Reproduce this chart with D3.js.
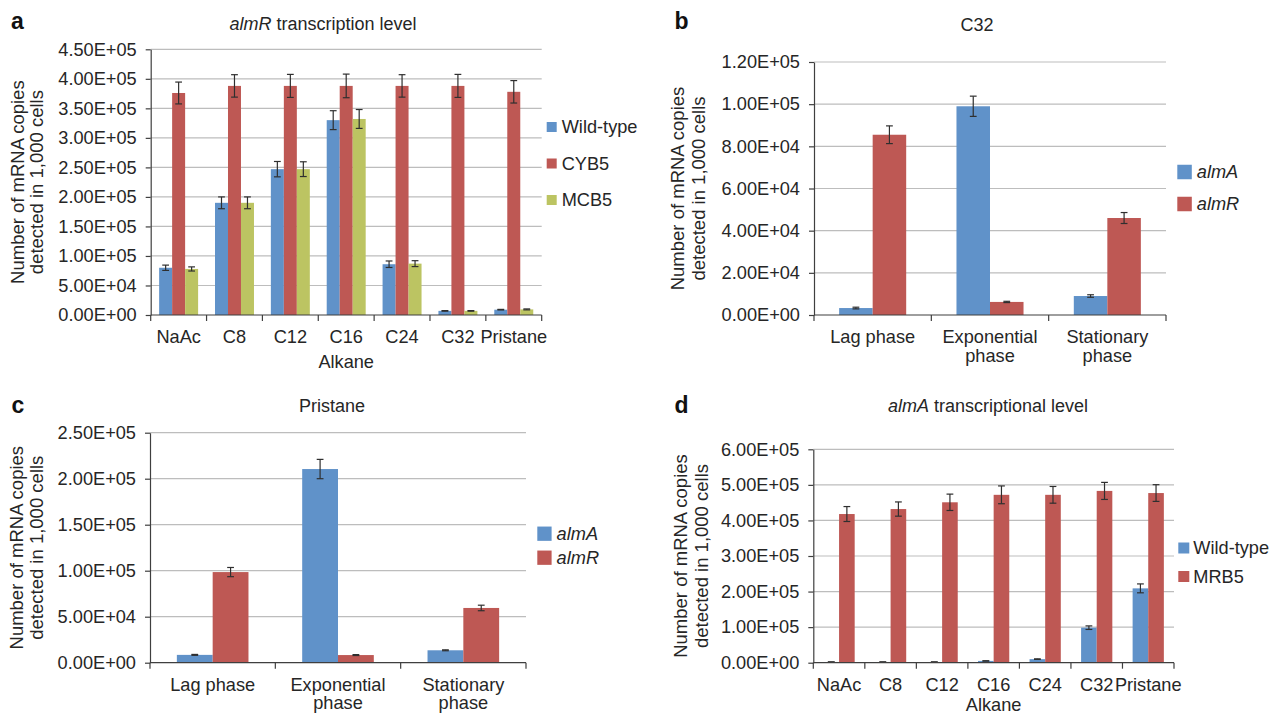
<!DOCTYPE html>
<html>
<head>
<meta charset="utf-8">
<script src="https://cdn.jsdelivr.net/npm/d3@7"></script>
<style>
  body { margin: 0; background: #fff; }
  svg { display: block; font-family: "Liberation Sans", Arial, Helvetica, sans-serif; }
  .y-axis text { font-size: 18.2px; fill: #262626; }
  .x-axis text { font-size: 18.2px; fill: #262626; }
  .grid line { stroke: #bdbdbd; stroke-width: 1.2; }
  .axis-line { stroke: #3f3f3f; stroke-width: 1.2; }
</style>
</head>
<body>
<svg id="chart" width="1271" height="714"></svg>
<script>
// categories
const alkanes = ['NaAc', 'C8', 'C12', 'C16', 'C24', 'C32', 'Pristane']
const phases = ['Lag phase', 'Exponential\nphase', 'Stationary\nphase']

// panel a: almR transcription level
const aWild = [80000, 190000, 247000, 330000, 86000, 7000, 9000]
const aWildErr = [4500, 10000, 13000, 16000, 5500, 500, 500]
const aCyb5 = [376000, 388000, 388000, 388000, 388000, 388000, 378000]
const aCyb5Err = [18500, 19000, 19500, 20000, 19000, 19500, 19000]
const aMcb5 = [78000, 190000, 247000, 332000, 87000, 7000, 9500]
const aMcb5Err = [3500, 10000, 12500, 16000, 5000, 500, 800]
const aTicks = [0, 50000, 100000, 150000, 200000, 250000, 300000, 350000, 400000, 450000]

// panel b: C32
const bAlmA = [3300, 99000, 9000]
const bAlmAErr = [400, 4800, 600]
const bAlmR = [85500, 6200, 46000]
const bAlmRErr = [4200, 300, 2600]
const bTicks = [0, 20000, 40000, 60000, 80000, 100000, 120000]

// panel c: Pristane
const cAlmA = [8500, 210500, 13500]
const cAlmAErr = [500, 10500, 500]
const cAlmR = [98500, 8300, 59500]
const cAlmRErr = [5000, 500, 3000]
const cTicks = [0, 50000, 100000, 150000, 200000, 250000]

// panel d: almA transcriptional level
const dWild = [2000, 2000, 2000, 5000, 10000, 98500, 209000]
const dWildErr = [300, 300, 300, 500, 800, 5000, 12500]
const dMrb5 = [418000, 432000, 451000, 472000, 472000, 483000, 477000]
const dMrb5Err = [21000, 20000, 23000, 25000, 23500, 24000, 23500]
const dTicks = [0, 100000, 200000, 300000, 400000, 500000, 600000]

const blue = '#6092c9'
const red = '#be5854'
const green = '#bcc462'

const svg = d3.select('#chart')
svg.append('rect').attr('width', 1271).attr('height', 714).attr('fill', '#fff')

// excel style 4.50E+05
const fmtE = v => {
  if (v === 0) return '0.00E+00'
  const e = Math.floor(Math.log10(v) + 1e-9)
  const m = v / Math.pow(10, e)
  return m.toFixed(2) + 'E' + (e < 0 ? '-' : '+') + String(Math.abs(e)).padStart(2, '0')
}

function drawPanel (p) {
  const g = svg.append('g')
  const box = p.box

  // panel letter
  g.append('text')
    .attr('x', p.letter[1]).attr('y', p.letter[2])
    .style('font-size', '23px').style('font-weight', 'bold').attr('fill', '#111')
    .text(p.letter[0])

  // title with italic gene name
  const title = g.append('text')
    .attr('x', p.titlePos[0]).attr('y', p.titlePos[1])
    .attr('text-anchor', 'middle')
    .style('font-size', '18px').attr('fill', '#262626')
  p.title.forEach(part => {
    title.append('tspan').style('font-style', part[1] ? 'italic' : 'normal').text(part[0])
  })

  // scales
  const x = d3.scaleBand().domain(p.categories).range([box.left, box.right])
  const y = d3.scaleLinear().domain([0, d3.max(p.ticks)]).range([box.bottom, box.top])
  const n = p.series.length
  const barW = x.bandwidth() / (n + p.gap)
  const inner = d3.scaleBand().domain(p.series.map(s => s.name)).range([0, n * barW])
  const offset = (x.bandwidth() - n * barW) / 2

  // gridlines
  g.append('g').attr('class', 'grid')
    .selectAll('line')
    .data(p.ticks.filter(t => t > 0))
    .enter()
    .append('line')
    .attr('x1', box.left).attr('x2', box.right)
    .attr('y1', d => y(d)).attr('y2', d => y(d))

  // bars
  p.series.forEach(s => {
    g.append('g').selectAll('rect')
      .data(p.categories)
      .enter()
      .append('rect')
      .attr('x', (c, i) => x(c) + offset + inner(s.name))
      .attr('y', (c, i) => y(s.values[i]))
      .attr('width', inner.bandwidth())
      .attr('height', (c, i) => box.bottom - y(s.values[i]))
      .attr('fill', s.color)
  })

  // error bars
  p.series.forEach(s => {
    const eg = g.append('g').attr('stroke', '#2f2f2f').attr('stroke-width', 1.2).attr('fill', 'none')
    p.categories.forEach((c, i) => {
      const cx = x(c) + offset + inner(s.name) + inner.bandwidth() / 2
      const hi = y(s.values[i] + s.errors[i])
      const lo = y(s.values[i] - s.errors[i])
      eg.append('line').attr('x1', cx).attr('x2', cx).attr('y1', hi).attr('y2', lo)
      eg.append('line').attr('x1', cx - 3.4).attr('x2', cx + 3.4).attr('y1', hi).attr('y2', hi)
      eg.append('line').attr('x1', cx - 3.4).attr('x2', cx + 3.4).attr('y1', lo).attr('y2', lo)
    })
  })

  // y axis
  const yAxis = g.append('g').attr('class', 'y-axis')
    .attr('transform', `translate(${box.left},0)`)
    .call(d3.axisLeft(y).tickValues(p.ticks).tickFormat(fmtE).tickSize(5).tickSizeOuter(0).tickPadding(9))
  yAxis.selectAll('line').attr('stroke', '#3f3f3f').attr('stroke-width', 1.2)
  yAxis.select('.domain').attr('stroke', '#3f3f3f').attr('stroke-width', 1.2)

  // x axis labels
  const xAxis = g.append('g').attr('class', 'x-axis')
    .attr('transform', `translate(0,${box.bottom})`)
    .call(d3.axisBottom(x).tickSize(0).tickPadding(15.5))
  xAxis.select('.domain').remove()
  xAxis.selectAll('text').each(function (d) {
    const t = d3.select(this)
    const lines = d.split('\n')
    t.text(null)
    lines.forEach((l, k) => {
      t.append('tspan').attr('x', 0).attr('dy', k === 0 ? null : '1.0em').text(l)
    })
  })

  // x axis line and boundary ticks
  g.append('line').attr('class', 'axis-line')
    .attr('x1', box.left).attr('x2', box.right)
    .attr('y1', box.bottom).attr('y2', box.bottom)
  const bounds = p.categories.map(c => x(c)).concat([box.right])
  g.append('g').selectAll('line')
    .data(bounds)
    .enter()
    .append('line')
    .attr('class', 'axis-line')
    .attr('x1', d => d).attr('x2', d => d)
    .attr('y1', box.bottom).attr('y2', box.bottom + 6)

  // x axis title
  if (p.xTitle) {
    g.append('text')
      .attr('x', (box.left + box.right) / 2).attr('y', box.bottom + p.xTitleDy)
      .attr('text-anchor', 'middle')
      .style('font-size', '18.2px').attr('fill', '#262626')
      .text(p.xTitle)
  }

  // y axis title, two lines
  const yMid = (box.top + box.bottom) / 2
  const yTitle = ['Number of mRNA copies', 'detected in 1,000 cells']
  yTitle.forEach((l, k) => {
    g.append('text')
      .attr('transform', `translate(${p.yTitleX[k]},${yMid}) rotate(-90)`)
      .attr('text-anchor', 'middle')
      .style('font-size', '18.5px').attr('fill', '#262626')
      .text(l)
  })

  // legend
  const lg = p.legend
  p.series.forEach((s, k) => {
    const cy = lg.y + k * lg.step
    g.append('rect')
      .attr('x', lg.x).attr('y', cy - lg.size / 2)
      .attr('width', lg.size).attr('height', lg.size)
      .attr('fill', s.color)
    g.append('text')
      .attr('x', lg.x + lg.size + lg.pad).attr('y', cy)
      .attr('dy', '0.35em')
      .style('font-size', '18.2px').style('font-style', s.italic ? 'italic' : 'normal')
      .attr('fill', '#262626')
      .text(s.name)
  })
}

drawPanel({
  letter: ['a', 11, 28.5],
  title: [['almR', true], [' transcription level', false]],
  titlePos: [323, 30],
  box: {left: 150.7, right: 541.7, top: 49.3, bottom: 315},
  categories: alkanes,
  ticks: aTicks,
  gap: 1.3,
  series: [
    {name: 'Wild-type', color: blue, values: aWild, errors: aWildErr},
    {name: 'CYB5', color: red, values: aCyb5, errors: aCyb5Err},
    {name: 'MCB5', color: green, values: aMcb5, errors: aMcb5Err}
  ],
  xTitle: 'Alkane',
  xTitleDy: 52.5,
  yTitleX: [23.5, 43],
  legend: {x: 546.7, y: 127, step: 36.5, size: 10, pad: 5}
})

drawPanel({
  letter: ['b', 674.5, 29.3],
  title: [['C32', false]],
  titlePos: [977, 31],
  box: {left: 814, right: 1166, top: 62, bottom: 315},
  categories: phases,
  ticks: bTicks,
  gap: 1.5,
  series: [
    {name: 'almA', italic: true, color: blue, values: bAlmA, errors: bAlmAErr},
    {name: 'almR', italic: true, color: red, values: bAlmR, errors: bAlmRErr}
  ],
  yTitleX: [684, 705],
  legend: {x: 1177.3, y: 172, step: 32, size: 14.5, pad: 5}
})

drawPanel({
  letter: ['c', 11.5, 413.3],
  title: [['Pristane', false]],
  titlePos: [332, 411.7],
  box: {left: 150, right: 526, top: 432.7, bottom: 662.7},
  categories: phases,
  ticks: cTicks,
  gap: 1.5,
  series: [
    {name: 'almA', italic: true, color: blue, values: cAlmA, errors: cAlmAErr},
    {name: 'almR', italic: true, color: red, values: cAlmR, errors: cAlmRErr}
  ],
  yTitleX: [23, 43],
  legend: {x: 537.3, y: 533.7, step: 24, size: 14.3, pad: 5}
})

drawPanel({
  letter: ['d', 674.5, 413.3],
  title: [['almA', true], [' transcriptional level', false]],
  titlePos: [988, 412],
  box: {left: 813.3, right: 1174, top: 449.3, bottom: 662.7},
  categories: alkanes,
  ticks: dTicks,
  gap: 1.3,
  series: [
    {name: 'Wild-type', color: blue, values: dWild, errors: dWildErr},
    {name: 'MRB5', color: red, values: dMrb5, errors: dMrb5Err}
  ],
  xTitle: 'Alkane',
  xTitleDy: 48.5,
  yTitleX: [686.5, 708],
  legend: {x: 1178.3, y: 548, step: 28.5, size: 11, pad: 4}
})
</script>
</body>
</html>
